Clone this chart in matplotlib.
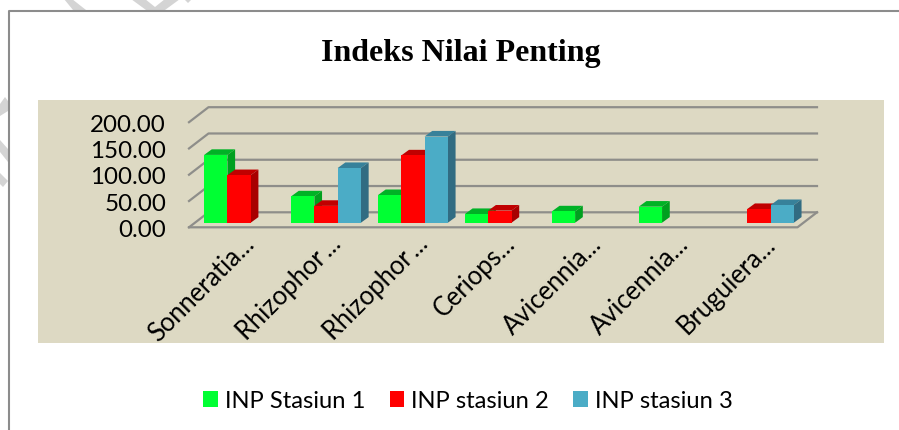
import numpy as np
import matplotlib
matplotlib.use('Agg')
import matplotlib.pyplot as plt
from matplotlib.patches import Patch, Polygon
from matplotlib.transforms import ScaledTranslation

categories = ['Sonneratia...', 'Rhizophor\u2009...', 'Rhizophor\u2009...', 'Ceriops...',
              'Avicennia...', 'Avicennia...', 'Bruguiera...']
stasiun_1 = [129.0, 50.0, 52.5, 16.5, 21.5, 30.5, 0]
stasiun_2 = [90.5, 32.0, 128.0, 23.0, 0, 0, 26.0]
stasiun_3 = [0, 104.0, 164.0, 0, 0, 0, 33.5]
series_names = ['INP Stasiun 1', 'INP stasiun 2', 'INP stasiun 3']
yticks = [0, 50, 100, 150, 200]

W, H = 899, 431
PANEL = '#DDD9C3'
GRID = '#8E8E8A'
colors = [('#00FF33', '#00B226', '#00A01F'),
          ('#FF0000', '#C00000', '#A80000'),
          ('#4BACC6', '#37819A', '#316C82')]

plt.rcParams['font.family'] = ['Lato', 'DejaVu Sans']
fig = plt.figure(figsize=(W / 100, H / 100), dpi=100, facecolor='white')

# backdrop in pixel coordinates: watermark, frame, panel
bg = fig.add_axes([0, 0, 1, 1])
bg.set_xlim(0, W)
bg.set_ylim(H, 0)
bg.axis('off')
wm = '#D4D4D4'
for pts in [[(64, 0), (72, 0), (86, 11), (73, 11)],
            [(131, 0), (145, 0), (155, 8), (165, 0), (180, 0), (165, 11), (146, 11)],
            [(184, 0), (192, 0), (188, 4)],
            [(0, 105), (5, 98), (8, 102), (8, 112), (0, 117)],
            [(0, 141), (8, 150), (8, 163), (0, 153)],
            [(0, 174), (8, 182), (3, 188), (0, 185)]]:
    bg.add_patch(Polygon(pts, closed=True, fc=wm, ec='none'))
bg.plot([8.5, 8.5, W], [H, 11.5, 11.5], color='#8C8C8C', lw=1.5)
bg.add_patch(plt.Rectangle((38, 101), 846, 243, fc=PANEL, ec='none'))

# main axes: x/y are categories and INP values on the front plane of the 3D box
px_left, px_right, px_y0, px_y200 = 189, 797.5, 228.3, 123.2
ax = fig.add_axes([px_left / W, 1 - px_y0 / H,
                   (px_right - px_left) / W, (px_y0 - px_y200) / H])
ax.patch.set_alpha(0)
ax.set_xlim(-0.5, 6.5)
ax.set_ylim(0, 200)
ux = (px_right - px_left) / 7
uy = (px_y0 - px_y200) / 200

# box depth, bar depth and bar placement (px converted to data units)
wall_dx, wall_dy = 19.5 / ux, 15 / uy
bar_dx, bar_dy = 7.7 / ux, 5.6 / uy
base_dx, base_dy = 6.6 / ux, 4.6 / uy
bar_w = 23.3 / ux

# gridlines on the wall and left side, floor outline
for v in yticks:
    ax.plot([-0.5, -0.5 + wall_dx, 6.5 + wall_dx], [v, v + wall_dy, v + wall_dy],
            color=GRID, lw=1.6, clip_on=False, zorder=1)
ax.plot([-0.5, 6.5, 6.5 + wall_dx], [0, 0, wall_dy], color=GRID, lw=1.6,
        clip_on=False, zorder=1)

x = np.arange(len(categories), dtype=float)
x[-1] -= 0.02
all_values = [stasiun_1, stasiun_2, stasiun_3]
for s, vals in enumerate(all_values):
    front, top, side = colors[s]
    xs = x + base_dx + (s - 1) * bar_w
    for xi, v in zip(xs, vals):
        if v == 0:
            continue
        x0, x1 = xi - bar_w / 2, xi + bar_w / 2
        y0, y1 = base_dy, base_dy + v
        ax.fill([x0, x1, x1 + bar_dx, x0 + bar_dx],
                [y1, y1, y1 + bar_dy, y1 + bar_dy],
                color=top, lw=0, clip_on=False, zorder=3 + s)
        ax.fill([x1, x1 + bar_dx, x1 + bar_dx, x1],
                [y0, y0 + bar_dy, y1 + bar_dy, y1],
                color=side, lw=0, clip_on=False, zorder=3 + s)
    ax.bar(xs, [v if v else np.nan for v in vals], bar_w, bottom=base_dy,
           color=front, lw=0, clip_on=False, zorder=4 + s)

for sp in ax.spines.values():
    sp.set_visible(False)
ax.set_yticks(yticks)
ax.set_yticklabels(['%.2f' % v for v in yticks], fontsize=17.4, color='black')
ax.tick_params(axis='y', length=0, pad=16.5)
ax.set_xticks(np.arange(len(categories)))
ax.set_xticklabels(categories, rotation=45, ha='right', va='top',
                   rotation_mode='anchor', fontsize=18.4, color='black')
ax.tick_params(axis='x', length=0, pad=0)
shift = ScaledTranslation(9 / 100, -3 / 100, fig.dpi_scale_trans)
for lab in ax.get_xticklabels():
    lab.set_transform(lab.get_transform() + shift)

fig.text(461 / W, 1 - 54 / H, 'Indeks Nilai Penting', ha='center', va='center',
         family='Liberation Serif', weight='bold', fontsize=23, color='black')

handles = [Patch(fc=c[0], ec='none', label=n) for c, n in zip(colors, series_names)]
fig.legend(handles=handles, loc='center', bbox_to_anchor=(468 / W, 1 - 402 / H),
           ncol=3, frameon=False, fontsize=17.1, handlelength=0.62, handleheight=0.62,
           handletextpad=0.3, columnspacing=1.0, borderpad=0)

fig.savefig('out.png', dpi=100)
